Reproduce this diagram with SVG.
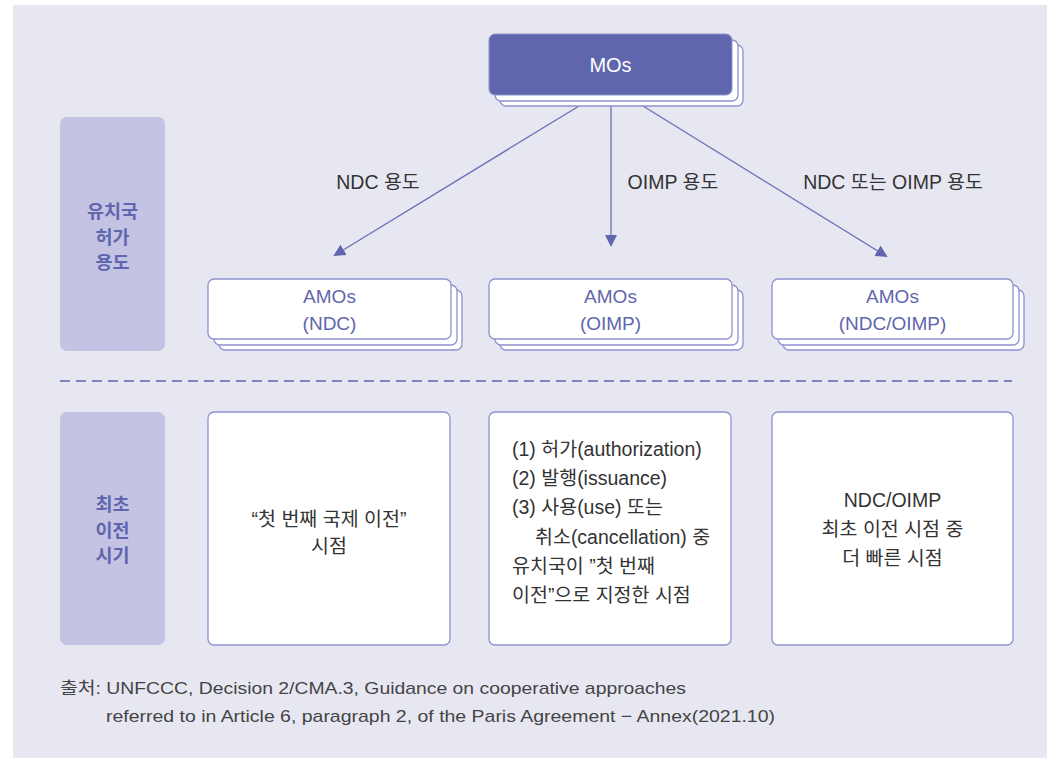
<svg xmlns="http://www.w3.org/2000/svg" width="1047" height="758" viewBox="0 0 1047 758">
<defs>
<style>
text{font-family:"Liberation Sans","Noto Sans CJK KR",sans-serif;}
.side{fill:#c4c3e3;}
.sidet{fill:#5f66ad;font-size:18.5px;font-weight:bold;text-anchor:middle;font-family:"Noto Sans CJK KR",sans-serif;}
.amo{fill:#fff;stroke:#8e92cf;stroke-width:1.3;}
.amot{fill:#5f66ad;font-size:19px;text-anchor:middle;}
.box{fill:#fff;stroke:#8e92cf;stroke-width:1.3;}
.bt{fill:#333;font-size:19.5px;}
.lbl{fill:#333;font-size:19.5px;text-anchor:middle;}
.conn{stroke:#6a70b8;stroke-width:1.3;fill:none;}
</style>
<marker id="ah" markerWidth="12" markerHeight="12" refX="10" refY="6" orient="auto" markerUnits="userSpaceOnUse">
<path d="M0,0 L12,6 L0,12 z" fill="#5f66ad"/>
</marker>
</defs>
<rect x="0" y="0" width="1047" height="758" fill="#fff"/>
<rect x="13" y="5" width="1034" height="753" fill="#e7e7f2"/>

<g id="side-top"><rect class="side" x="60" y="117" width="105" height="234" rx="7"/>
<text class="sidet" x="112.5" y="218">유치국</text><text class="sidet" x="112.5" y="243.5">허가</text><text class="sidet" x="112.5" y="269">용도</text></g>
<g id="side-bottom"><rect class="side" x="60" y="412" width="105" height="233" rx="7"/>
<text class="sidet" x="112.5" y="511">최초</text><text class="sidet" x="112.5" y="536.5">이전</text><text class="sidet" x="112.5" y="562">시기</text></g>

<g id="connectors">
<line class="conn" x1="579" y1="106" x2="335" y2="255" marker-end="url(#ah)"/>
<line class="conn" x1="611" y1="106" x2="611" y2="245" marker-end="url(#ah)"/>
<line class="conn" x1="643" y1="106" x2="886" y2="256" marker-end="url(#ah)"/>
<line x1="60" y1="381" x2="1012" y2="381" stroke="#5f66ad" stroke-width="1.3" stroke-dasharray="10,6"/>
</g>
<text class="lbl" x="378" y="189">NDC 용도</text>
<text class="lbl" x="673" y="189">OIMP 용도</text>
<text class="lbl" x="893" y="189">NDC 또는 OIMP 용도</text>

<g id="mos">
<rect x="500" y="45" width="243" height="61" rx="6" fill="#fff" stroke="#8e92cf" stroke-width="1.3"/>
<rect x="495" y="40" width="243" height="61" rx="6" fill="#fff" stroke="#8e92cf" stroke-width="1.3"/>
<rect x="489" y="34" width="243" height="61" rx="6" fill="#5f66ad" stroke="#8e92cf" stroke-width="1"/>
<text x="610.5" y="72" fill="#fff" font-size="20" text-anchor="middle">MOs</text>
</g>

<g id="amo-ndc">
<rect class="amo" x="219" y="290" width="243" height="60" rx="6"/>
<rect class="amo" x="214" y="285" width="243" height="60" rx="6"/>
<rect class="amo" x="208" y="279" width="243" height="60" rx="6"/>
<text class="amot" x="329.5" y="303">AMOs</text><text class="amot" x="329.5" y="330">(NDC)</text>
</g>
<g id="amo-oimp">
<rect class="amo" x="500" y="290" width="243" height="60" rx="6"/>
<rect class="amo" x="495" y="285" width="243" height="60" rx="6"/>
<rect class="amo" x="489" y="279" width="243" height="60" rx="6"/>
<text class="amot" x="610.5" y="303">AMOs</text><text class="amot" x="610.5" y="330">(OIMP)</text>
</g>
<g id="amo-both">
<rect class="amo" x="783" y="290" width="241" height="60" rx="6"/>
<rect class="amo" x="778" y="285" width="241" height="60" rx="6"/>
<rect class="amo" x="772" y="279" width="241" height="60" rx="6"/>
<text class="amot" x="892.5" y="303">AMOs</text><text class="amot" x="892.5" y="330">(NDC/OIMP)</text>
</g>

<g id="time-left">
<rect class="box" x="208" y="412" width="242" height="233" rx="6"/>
<text class="bt" x="329" y="526" text-anchor="middle">“첫 번째 국제 이전”</text>
<text class="bt" x="329" y="553" text-anchor="middle">시점</text>
</g>
<g id="time-mid">
<rect class="box" x="489" y="412" width="242" height="233" rx="6"/>
<text class="bt" x="512" y="456">(1)  허가(authorization)</text>
<text class="bt" x="512" y="485">(2) 발행(issuance)</text>
<text class="bt" x="512" y="514">(3) 사용(use) 또는</text>
<text class="bt" x="535" y="544">취소(cancellation) 중</text>
<text class="bt" x="512" y="573">유치국이 ”첫 번째</text>
<text class="bt" x="512" y="602">이전”으로 지정한 시점</text>
</g>
<g id="time-right">
<rect class="box" x="772" y="412" width="241" height="233" rx="6"/>
<text class="bt" x="892.5" y="507" text-anchor="middle">NDC/OIMP</text>
<text class="bt" x="892.5" y="536" text-anchor="middle">최초 이전 시점 중</text>
<text class="bt" x="892.5" y="565" text-anchor="middle">더 빠른 시점</text>
</g>

<g id="source">
<text x="60" y="694" fill="#444" font-size="17" textLength="626" lengthAdjust="spacingAndGlyphs" font-family="Noto Sans CJK KR, sans-serif">출처: UNFCCC, Decision 2/CMA.3, Guidance on cooperative approaches</text>
<text x="106" y="722" fill="#444" font-size="17" textLength="669" lengthAdjust="spacingAndGlyphs" font-family="Noto Sans CJK KR, sans-serif">referred to in Article 6, paragraph 2, of the Paris Agreement − Annex(2021.10)</text>
</g>
</svg>
